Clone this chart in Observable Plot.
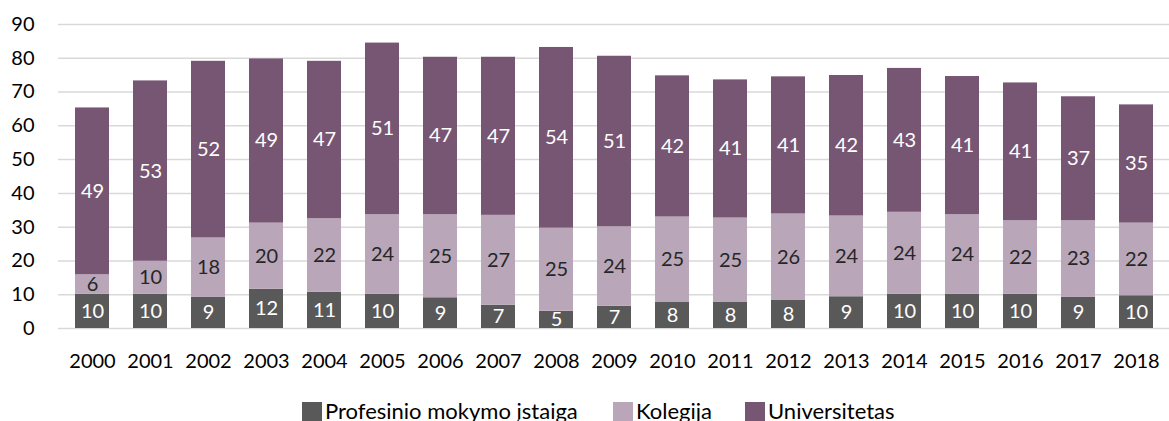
<!DOCTYPE html>
<html>
<head>
<meta charset="utf-8">
<script src="https://cdn.jsdelivr.net/npm/d3@7"></script>
<script src="https://cdn.jsdelivr.net/npm/@observablehq/plot@0.6"></script>
<style>
  html, body { margin: 0; padding: 0; background: #fff; }
  body { width: 1169px; font-family: Lato, "Open Sans", sans-serif; }
  #chart svg { display: block; }
  #legend { position: relative; height: 22px; margin-top: 20px; font-size: 22px; color: #000; line-height: 22px; }
  .item { position: absolute; top: 0; display: flex; align-items: center; gap: 3px; white-space: nowrap; }
  .sw { width: 20px; height: 19px; display: inline-block; }
</style>
</head>
<body>
<div id="chart"></div>
<div id="legend"></div>
<script>
const years = ["2000","2001","2002","2003","2004","2005","2006","2007","2008","2009","2010","2011","2012","2013","2014","2015","2016","2017","2018"];
const seriesNames = ["Profesinio mokymo įstaiga", "Kolegija", "Universitetas"];
const seriesColors = ["#595959", "#b9a6b9", "#775673"];
const profesinio = [10.1,10.1,9.2,11.6,10.7,10.1,9.1,6.9,5.1,6.6,7.7,7.7,8.3,9.4,10.1,10.1,10.1,9.2,9.7];
const kolegija = [5.8,9.8,17.6,19.6,21.8,23.6,24.6,26.6,24.6,23.5,25.3,25.0,25.6,23.9,24.3,23.6,21.8,22.7,21.5];
const universitetas = [49.4,53.4,52.3,48.6,46.6,50.8,46.6,46.8,53.5,50.5,41.8,40.9,40.6,41.6,42.6,40.9,40.8,36.7,35.0];
const yTicks = [0,10,20,30,40,50,60,70,80,90];
const legendLeft = [302, 613, 745];

const seriesValues = [profesinio, kolegija, universitetas];
const data = [];
seriesNames.forEach((s, si) => {
  years.forEach((yr, i) => data.push({year: yr, series: s, value: seriesValues[si][i]}));
});
const label = d => String(Math.round(d.value));

const chart = Plot.plot({
  width: 1169,
  height: 380,
  marginLeft: 58,
  marginRight: 0,
  marginTop: 24,
  marginBottom: 52,
  style: {fontFamily: "Lato, 'Open Sans', sans-serif", fontSize: "20px", color: "#000", background: "#fff"},
  x: {domain: years, paddingInner: 0.42, paddingOuter: 0.21, label: null},
  y: {domain: [0, 90], label: null},
  color: {domain: seriesNames, range: seriesColors},
  marks: [
    Plot.gridY(yTicks, {stroke: "#d9d9d9", strokeOpacity: 1, strokeWidth: 1.5}),
    Plot.axisY(yTicks, {tickSize: 0, tickPadding: 24, label: null, fontSize: 20}),
    Plot.axisX({tickSize: 0, tickPadding: 25, label: null, fontSize: 20}),
    Plot.barY(data, Plot.stackY({x: "year", y: "value", fill: "series", z: "series"})),
    Plot.text(data, Plot.stackY({x: "year", y: "value", z: "series",
      text: d => d.series !== "Kolegija" ? label(d) : null, fill: "white", fontSize: 20})),
    Plot.text(data, Plot.stackY({x: "year", y: "value", z: "series",
      text: d => d.series === "Kolegija" ? label(d) : null, fill: "#262626", fontSize: 20}))
  ]
});
document.getElementById("chart").appendChild(chart);

const legend = document.getElementById("legend");
seriesNames.forEach((s, i) => {
  const item = document.createElement("div");
  item.className = "item";
  item.style.left = legendLeft[i] + "px";
  const sw = document.createElement("span");
  sw.className = "sw";
  sw.style.background = seriesColors[i];
  const t = document.createElement("span");
  t.textContent = s;
  item.appendChild(sw);
  item.appendChild(t);
  legend.appendChild(item);
});
</script>
</body>
</html>
